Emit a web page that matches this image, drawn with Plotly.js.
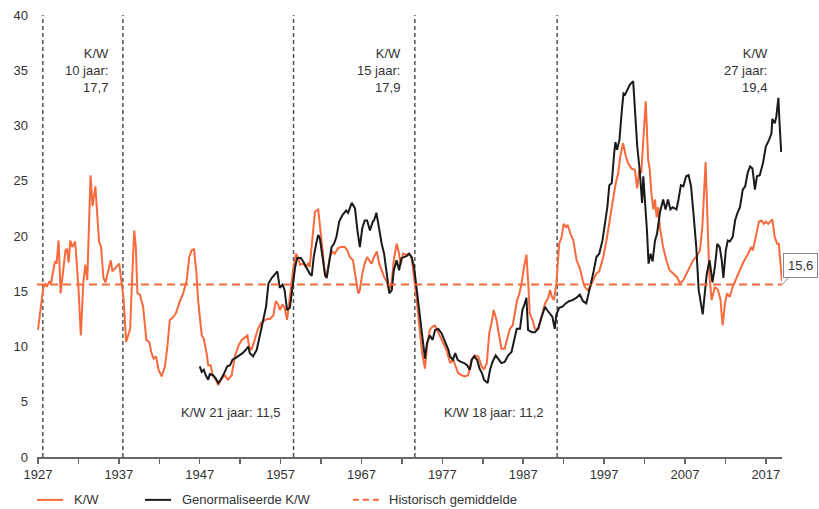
<!DOCTYPE html>
<html>
<head>
<meta charset="utf-8">
<script src="https://cdn.plot.ly/plotly-3.0.1.min.js"></script>
<style>html,body{margin:0;padding:0;background:#fff;}#chart{width:819px;height:509px;}</style>
</head>
<body>
<div id="chart"></div>
<script>
// ---- Data ----
const kwYears = [1927.0,1927.65,1927.9,1928.1,1928.4,1928.6,1928.9,1929.1,1929.3,1929.55,1929.8,1930.1,1930.4,1930.6,1930.8,1931.0,1931.25,1931.6,1931.9,1932.0,1932.3,1932.6,1932.85,1933.1,1933.5,1933.75,1934.1,1934.55,1934.8,1935.1,1935.35,1935.7,1936.0,1936.2,1936.6,1937.05,1937.35,1937.6,1937.9,1938.4,1938.6,1938.9,1939.1,1939.3,1939.6,1940.0,1940.4,1940.75,1941.05,1941.3,1941.6,1941.9,1942.3,1942.7,1943.0,1943.3,1943.65,1944.05,1944.55,1944.95,1945.4,1945.7,1946.0,1946.3,1946.6,1946.8,1947.25,1947.5,1947.85,1948.05,1948.35,1948.6,1948.9,1949.3,1949.7,1950.1,1950.5,1950.95,1951.35,1951.8,1952.2,1952.6,1952.9,1953.1,1953.4,1953.8,1954.2,1954.65,1955.05,1955.35,1955.7,1956.1,1956.4,1956.7,1956.9,1957.25,1957.5,1957.8,1958.15,1958.55,1958.9,1959.2,1959.4,1959.8,1960.1,1960.4,1960.6,1961.0,1961.25,1961.65,1961.95,1962.2,1962.5,1962.75,1963.1,1963.4,1963.7,1964.1,1964.5,1964.95,1965.25,1965.55,1965.95,1966.3,1966.6,1966.8,1967.1,1967.4,1967.7,1967.95,1968.25,1968.55,1968.9,1969.2,1969.5,1969.8,1970.1,1970.4,1970.7,1971.0,1971.35,1971.6,1971.85,1972.15,1972.5,1972.9,1973.2,1973.5,1973.8,1974.2,1974.5,1974.85,1975.1,1975.45,1975.8,1976.1,1976.35,1976.7,1977.1,1977.5,1977.85,1977.95,1978.35,1978.7,1978.95,1979.4,1979.8,1980.2,1980.6,1981.0,1981.45,1981.85,1982.15,1982.5,1982.8,1983.1,1983.35,1983.7,1984.0,1984.3,1984.7,1985.0,1985.35,1985.7,1985.95,1986.25,1986.5,1986.8,1987.1,1987.4,1987.65,1987.8,1988.15,1988.45,1988.85,1989.25,1989.7,1990.1,1990.3,1990.55,1990.8,1991.1,1991.45,1991.75,1992.0,1992.3,1992.5,1992.85,1993.2,1993.6,1994.0,1994.35,1994.6,1995.0,1995.3,1995.65,1996.05,1996.4,1996.9,1997.3,1997.65,1998.1,1998.45,1998.75,1999.0,1999.35,1999.7,1999.95,2000.4,2000.8,2001.1,2001.35,2001.6,2001.85,2002.15,2002.45,2002.65,2002.85,2003.1,2003.3,2003.5,2003.7,2003.9,2004.3,2004.7,2005.1,2005.5,2006.0,2006.4,2006.8,2007.2,2007.6,2008.0,2008.4,2008.85,2009.15,2009.35,2009.55,2009.75,2010.0,2010.3,2010.7,2011.1,2011.4,2011.65,2011.95,2012.2,2012.55,2012.9,2013.4,2013.8,2014.2,2014.8,2015.2,2015.4,2015.85,2016.15,2016.45,2016.75,2017.0,2017.3,2017.55,2017.8,2018.1,2018.4,2018.6,2018.8,2018.9,2019.0];
const kwValues = [11.5,15.3,15.7,15.4,15.9,15.7,16.9,17.7,17.5,19.6,14.8,16.6,18.7,18.8,17.6,19.6,19.0,19.5,16.2,15.4,11.0,15.7,17.4,16.0,25.5,22.7,24.5,19.5,19.0,16.2,15.8,16.8,17.8,16.8,17.1,17.5,15.7,14.2,10.4,11.6,15.4,20.5,19.0,14.8,14.7,13.6,10.6,10.4,9.4,8.9,9.1,7.9,7.3,8.2,10.0,12.4,12.6,13.0,14.1,14.8,16.0,18.1,18.7,18.8,16.6,14.2,11.0,10.7,9.4,8.3,8.3,7.4,7.1,6.5,7.1,7.4,7.0,7.4,9.1,10.1,10.6,10.8,11.0,10.0,9.7,10.6,11.6,12.2,12.4,12.5,12.5,12.8,14.1,13.8,13.3,13.8,13.5,12.4,14.5,16.9,18.4,18.0,17.4,17.5,17.2,17.5,17.2,19.9,22.2,22.4,20.5,18.7,16.3,16.6,18.1,18.6,18.4,18.9,19.0,19.0,18.7,18.1,17.8,16.3,14.8,15.1,16.6,17.5,18.1,17.8,17.5,18.1,18.6,17.5,16.9,16.3,15.9,15.1,15.6,17.8,19.3,18.6,17.4,18.4,18.3,18.4,18.0,16.3,14.5,11.5,9.4,8.0,10.0,11.5,11.8,11.9,11.5,10.9,10.3,9.7,8.8,8.5,8.8,8.2,7.6,7.4,7.3,7.4,8.8,9.2,9.1,8.2,7.9,8.5,11.2,12.2,13.3,12.4,10.9,9.8,9.8,10.7,11.6,11.9,13.0,14.2,14.7,15.7,17.2,18.3,15.4,13.0,12.4,11.6,11.6,12.7,13.9,14.4,15.1,14.5,14.2,15.7,19.3,19.9,21.1,20.8,21.0,20.2,19.6,17.8,17.1,16.0,15.4,15.1,15.4,16.0,16.6,16.8,18.1,19.6,21.4,23.3,24.8,25.7,27.2,28.4,27.2,26.6,26.1,26.0,24.3,26.0,25.7,28.4,32.2,26.9,26.0,23.9,22.4,23.3,21.7,22.6,20.8,19.0,17.8,16.9,16.6,16.3,15.7,16.0,16.6,17.2,17.8,18.1,18.7,20.8,24.5,26.7,22.4,16.6,14.2,15.4,15.1,14.2,11.9,13.9,14.8,14.5,15.4,16.3,16.9,17.6,18.4,19.0,18.7,20.2,21.3,21.4,21.1,21.3,21.1,21.3,21.5,19.9,19.3,19.3,17.8,16.9,15.9];

const normYears = [1947.0,1947.25,1947.5,1947.75,1948.05,1948.25,1948.65,1949.0,1949.3,1949.7,1950.1,1950.4,1950.75,1951.05,1951.5,1951.9,1952.3,1952.7,1953.0,1953.2,1953.6,1954.05,1954.45,1954.85,1955.2,1955.5,1955.9,1956.3,1956.6,1956.9,1957.25,1957.5,1957.8,1958.15,1958.5,1958.8,1959.05,1959.5,1959.8,1960.2,1960.6,1960.85,1961.1,1961.4,1961.65,1961.85,1962.2,1962.5,1962.7,1963.0,1963.3,1963.6,1963.9,1964.25,1964.65,1965.1,1965.35,1965.8,1966.2,1966.5,1966.8,1967.1,1967.4,1967.7,1968.05,1968.4,1968.55,1968.85,1969.2,1969.5,1969.8,1970.1,1970.45,1970.75,1971.0,1971.35,1971.65,1971.95,1972.25,1972.6,1972.9,1973.2,1973.5,1973.8,1974.2,1974.55,1974.85,1975.1,1975.45,1975.8,1976.1,1976.5,1976.9,1977.35,1977.75,1977.95,1978.3,1978.6,1978.9,1979.3,1979.7,1980.05,1980.4,1980.65,1980.95,1981.3,1981.6,1981.9,1982.15,1982.6,1982.9,1983.2,1983.6,1983.9,1984.3,1984.7,1985.15,1985.55,1985.85,1986.2,1986.6,1986.9,1987.2,1987.4,1987.6,1988.05,1988.45,1988.85,1989.25,1989.7,1989.95,1990.3,1990.6,1990.9,1991.1,1991.45,1991.85,1992.25,1992.65,1993.1,1993.55,1994.0,1994.4,1994.8,1995.2,1995.65,1996.05,1996.4,1996.8,1997.1,1997.4,1997.65,1997.95,1998.25,1998.4,1998.6,1998.9,1999.2,1999.4,1999.6,1999.9,2000.2,2000.6,2000.8,2001.1,2001.4,2001.55,2001.7,2001.85,2002.1,2002.3,2002.5,2002.75,2003.0,2003.3,2003.55,2003.9,2004.3,2004.6,2004.9,2005.2,2005.5,2005.95,2006.2,2006.5,2006.8,2007.15,2007.45,2007.75,2008.05,2008.4,2008.7,2009.0,2009.2,2009.45,2009.7,2010.05,2010.4,2010.7,2011.0,2011.3,2011.55,2011.75,2012.05,2012.3,2012.55,2012.9,2013.2,2013.5,2013.8,2014.15,2014.45,2014.75,2015.05,2015.35,2015.65,2015.9,2016.25,2016.65,2017.0,2017.4,2017.7,2017.8,2018.1,2018.3,2018.55,2018.7,2018.9];
const normValues = [8.2,7.7,7.9,7.4,7.0,7.5,7.4,7.1,6.7,7.1,7.7,8.2,8.3,8.8,9.0,9.2,9.4,9.7,10.0,9.4,9.1,9.7,11.2,12.4,13.6,15.7,16.2,16.6,16.8,15.3,15.6,15.1,13.3,13.5,15.4,17.2,18.0,18.0,17.7,17.1,16.6,16.4,18.1,19.3,20.1,19.8,18.1,16.5,16.2,17.5,19.0,19.3,19.9,21.3,21.9,22.3,22.1,23.0,22.5,20.5,19.0,20.7,21.4,21.4,20.5,21.3,21.4,22.1,20.5,19.3,18.4,16.9,14.8,15.1,16.9,17.8,16.9,18.0,18.1,18.2,18.4,18.1,17.2,15.4,13.0,10.9,8.9,10.3,11.0,10.6,11.5,11.6,11.2,10.4,9.7,9.1,8.8,9.4,8.8,8.6,8.5,8.3,7.9,8.8,9.1,8.8,8.0,7.6,7.0,6.7,7.9,8.6,9.2,8.9,8.5,8.6,9.2,9.5,10.6,11.6,11.6,13.3,13.9,14.4,11.5,11.3,11.3,11.6,12.6,13.6,13.3,13.0,12.7,11.6,12.9,13.5,13.6,13.9,14.1,14.2,14.4,14.7,14.1,13.9,15.1,16.6,18.1,18.4,19.6,21.1,22.6,24.6,24.8,27.5,28.5,27.8,28.7,31.4,32.9,32.8,33.2,33.7,34.0,31.4,28.1,26.0,23.9,23.0,25.4,23.0,20.5,17.5,18.4,17.7,19.6,20.2,22.1,23.3,22.4,23.3,22.4,22.6,22.4,23.3,24.6,24.5,25.4,25.5,24.5,22.1,19.0,15.1,13.6,12.9,14.8,16.6,17.8,15.8,17.2,19.3,19.0,17.8,16.2,18.7,19.6,19.5,19.9,21.4,22.1,22.6,24.2,24.5,25.7,26.3,26.1,24.2,25.4,25.5,26.6,28.1,28.7,29.3,30.6,30.2,30.8,32.5,30.2,27.6];

const historicMean = 15.6;
const periodBounds = [1927.6, 1937.5, 1958.6, 1973.6, 1991.2, 2019.0];
const periodLabels = ["K/W<br>10 jaar:<br>17,7", "K/W 21 jaar: 11,5", "K/W<br>15 jaar:<br>17,9", "K/W 18 jaar: 11,2", "K/W<br>27 jaar:<br>19,4"];
const seriesNames = ["K/W", "Genormaliseerde K/W", "Historisch gemiddelde"];
const xTickVals = [1927, 1937, 1947, 1957, 1967, 1977, 1987, 1997, 2007, 2017];
const yTickVals = [0, 5, 10, 15, 20, 25, 30, 35, 40];

// ---- Styling ----
const ORANGE = '#F8693C';
const BLACK = '#1a1a1a';
const TXT = '#333333';
const FONT = 'Liberation Sans, Arial, sans-serif';
const xRange = [1926.88, 2019.0];

const traces = [
  {x: kwYears, y: kwValues, type: 'scatter', mode: 'lines', name: seriesNames[0],
   line: {color: ORANGE, width: 2}, showlegend: false},
  {x: normYears, y: normValues, type: 'scatter', mode: 'lines', name: seriesNames[1],
   line: {color: BLACK, width: 2}, showlegend: false},
  {x: xRange, y: [historicMean, historicMean], type: 'scatter', mode: 'lines', name: seriesNames[2],
   line: {color: ORANGE, width: 2, dash: '8px,5px'}, showlegend: false}
];

const shapes = [];
// vertical period separators
periodBounds.slice(0, 5).forEach(b => {
  shapes.push({type: 'line', xref: 'x', yref: 'paper', x0: b, x1: b, y0: 0, y1: 1,
    line: {color: '#555', width: 1.5, dash: '4px,3px'}, layer: 'below'});
});

const annotations = [];
periodLabels.forEach((t, i) => {
  const top = (i % 2 === 0);
  annotations.push({xref: 'x', yref: 'y', x: periodBounds[i + 1], y: top ? 35 : 4,
    xanchor: 'right', yanchor: 'middle', xshift: -12, align: 'right', text: t,
    showarrow: false, font: {family: FONT, size: 13, color: TXT}});
});

// mean value callout
annotations.push({xref: 'x', yref: 'y', x: xRange[1], y: historicMean,
  text: String(historicMean).replace('.', ','), showarrow: true, arrowhead: 0,
  arrowwidth: 1, arrowcolor: '#888', axref: 'pixel', ayref: 'pixel', ax: 18, ay: -19,
  bordercolor: '#888', borderwidth: 1, borderpad: 4, bgcolor: '#fff',
  font: {family: FONT, size: 13, color: TXT}});

// manual legend
const legY = -0.097;
const legItems = [
  {x0: 0.0, x1: 0.035, tx: 0.047, color: ORANGE, dash: 'solid'},
  {x0: 0.145, x1: 0.18, tx: 0.192, color: BLACK, dash: 'solid'},
  {x0: 0.424, x1: 0.459, tx: 0.470, color: ORANGE, dash: '6px,4px'}
];
legItems.forEach((it, i) => {
  shapes.push({type: 'line', xref: 'paper', yref: 'paper', x0: it.x0, x1: it.x1, y0: legY, y1: legY,
    line: {color: it.color, width: 2, dash: it.dash}});
  annotations.push({xref: 'paper', yref: 'paper', x: it.tx, y: legY, xanchor: 'left', yanchor: 'middle',
    text: seriesNames[i], showarrow: false, font: {family: FONT, size: 13, color: TXT}});
});

const layout = {
  width: 819, height: 509,
  margin: {l: 37, r: 37, t: 15, b: 52},
  paper_bgcolor: '#fff', plot_bgcolor: '#fff',
  font: {family: FONT, size: 13, color: TXT},
  showlegend: false,
  xaxis: {range: xRange, tickvals: xTickVals, ticktext: xTickVals.map(String),
    showgrid: false, zeroline: false, showline: true, linecolor: '#666', linewidth: 1.5,
    ticks: 'outside', ticklen: 5, tickwidth: 1.5, tickcolor: '#666',
    minor: {dtick: 5, tick0: 1927, ticks: 'outside', ticklen: 5, tickwidth: 1.5, tickcolor: '#666'},
    tickfont: {family: FONT, size: 13, color: TXT}, fixedrange: true},
  yaxis: {range: [0, 40], tickvals: yTickVals, showgrid: false, zeroline: false, showline: false,
    ticks: '', ticklabelstandoff: 8, tickfont: {family: FONT, size: 13, color: TXT}, fixedrange: true},
  shapes: shapes,
  annotations: annotations
};

Plotly.newPlot('chart', traces, layout, {displayModeBar: false, staticPlot: true});
</script>
</body>
</html>
